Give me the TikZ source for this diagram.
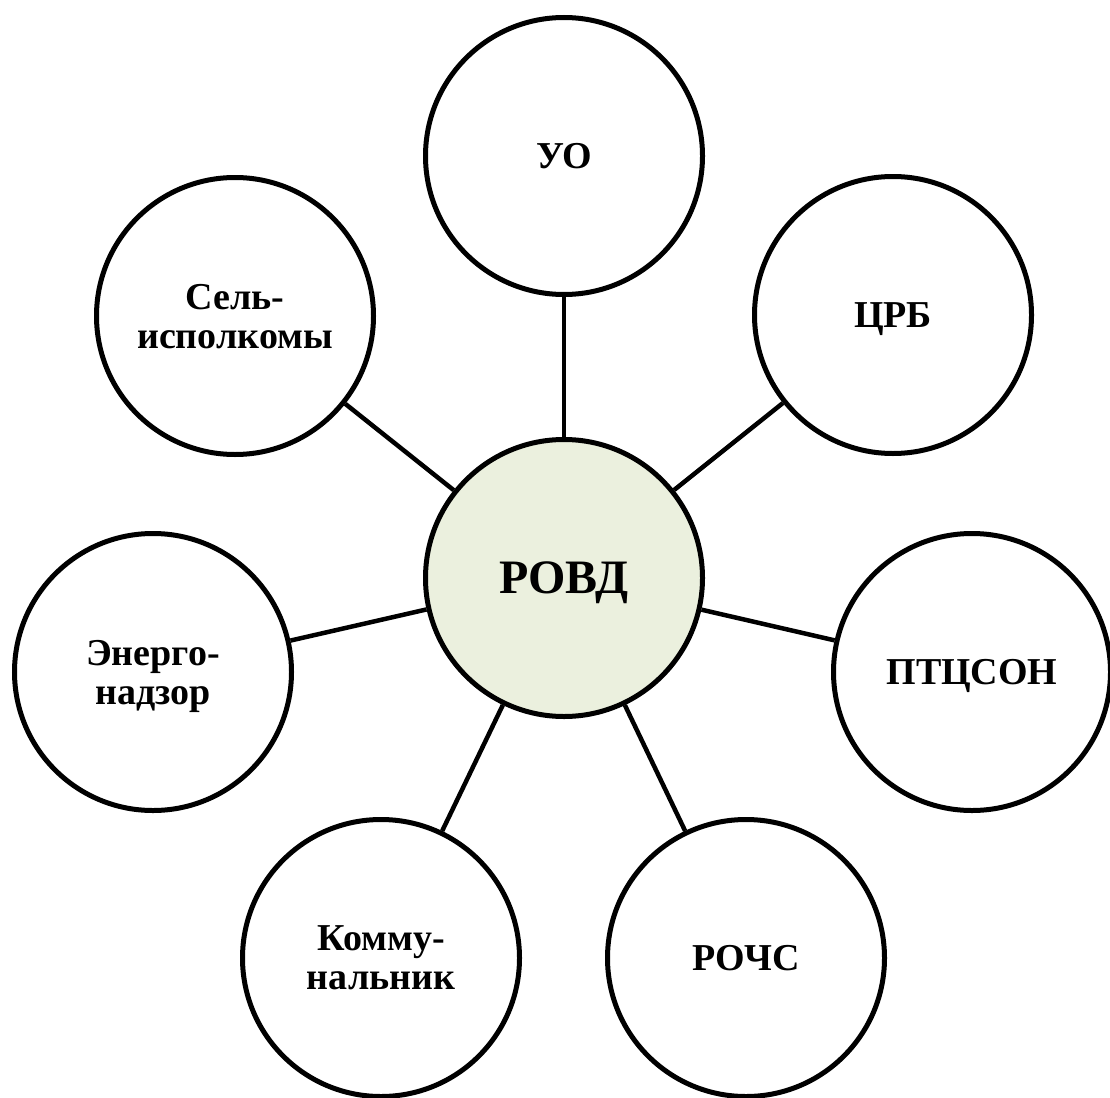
\documentclass[tikz,border=0pt]{standalone}
\usepackage{fontspec}
\setmainfont{Liberation Serif}
\definecolor{hubfill}{HTML}{EBF0DE}
\begin{document}
\begin{tikzpicture}[x=1pt,y=-1pt,
  org/.style={circle,draw=black,line width=5pt,minimum size=277pt,inner sep=0pt,
    fill=white,align=center,text depth=0pt,font=\bfseries\fontsize{38}{39}\selectfont},
  hub/.style={org,fill=hubfill,font=\bfseries\fontsize{48}{48}\selectfont},
  link/.style={line width=4.5pt}]
\useasboundingbox (0,0) rectangle (1110,1097);
\node[hub] (c) at (564,578) {РОВД};
\node[org] (uo) at (564,156) {УО};
\node[org] (crb) at (893,315) {ЦРБ};
\node[org] (ptc) at (972,672) {ПТЦСОН};
\node[org] (roch) at (746,958) {РОЧС};
\node[org] (komm) at (381,958) {Комму-\\нальник};
\node[org] (energo) at (153,672) {Энерго-\\надзор};
\node[org] (sel) at (235,316) {Сель-\\исполкомы};
\foreach \n in {uo,crb,ptc,roch,komm,energo,sel}
  \draw[link] (c) -- (\n);
\end{tikzpicture}
\end{document}
